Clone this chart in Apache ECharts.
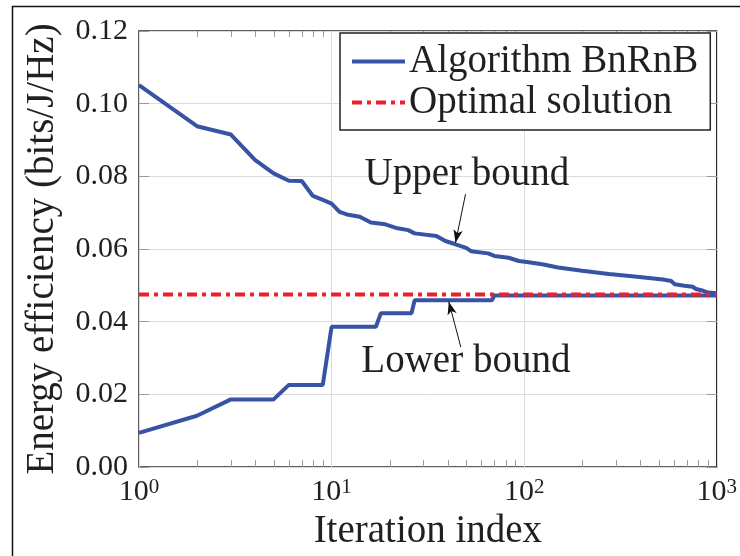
<!DOCTYPE html>
<html>
<head>
<meta charset="utf-8">
<script src="https://cdn.jsdelivr.net/npm/echarts@6/dist/echarts.min.js"></script>
<style>
  html, body { margin: 0; padding: 0; background: #fff; }
  #chart { width: 740px; height: 556px; }
</style>
</head>
<body>
<div id="chart"></div>
<script>
// Upper bound of the branch-reduce-and-bound search, per iteration
const upperIter = [1, 2, 3, 4, 5, 6, 7, 8, 9, 10, 11, 12, 14, 16, 19, 22, 25, 27, 35, 39, 44, 50, 53, 65, 70, 83, 94, 101, 124, 150, 200, 275, 375, 525, 580, 605, 680, 750, 780, 850, 900, 1000];
const upperEE = [0.1051, 0.0938, 0.0915, 0.0845, 0.0808, 0.0788, 0.0787, 0.0746, 0.0735, 0.0725, 0.0702, 0.0695, 0.0689, 0.0673, 0.0668, 0.0657, 0.0652, 0.0643, 0.0636, 0.0622, 0.0613, 0.0603, 0.0594, 0.0588, 0.0581, 0.0576, 0.0567, 0.0565, 0.0558, 0.0549, 0.0540, 0.0531, 0.0524, 0.0516, 0.0512, 0.0503, 0.0499, 0.0496, 0.0490, 0.0485, 0.0480, 0.0478];

// Lower bound (best feasible value found so far)
const lowerIter = [1, 2, 3, 5, 6, 9, 10, 17, 18, 26, 27, 68, 70, 1000];
const lowerEE = [0.0094, 0.0141, 0.0186, 0.0186, 0.0226, 0.0226, 0.0386, 0.0386, 0.0423, 0.0423, 0.0459, 0.0459, 0.0472, 0.0472];

// Optimal energy efficiency
const optimalIter = [1, 1000];
const optimalEE = [0.0475, 0.0475];

// Axis ranges and ticks
const xRange = [1, 1000];
const yRange = [0, 0.12];
const yStep = 0.02;
const minorTicks = [2, 3, 4, 5, 6, 7, 8, 9, 20, 30, 40, 50, 60, 70, 80, 90, 200, 300, 400, 500, 600, 700, 800, 900];

const FONT = '"Liberation Serif", "Times New Roman", serif';
const TXT = '#231f20';
const BLUE = '#3853a4';
const RED = '#ee2128';
const BIG = 39;

const pairs = (xs, ys) => xs.map((x, i) => [x, ys[i]]);

const chart = echarts.init(document.getElementById('chart'), null, { renderer: 'canvas' });

const option = {
  animation: false,
  backgroundColor: '#fff',
  textStyle: { fontFamily: FONT, color: TXT },
  graphic: [{
    type: 'polyline',
    silent: true,
    shape: { points: [[12.5, 556], [12.5, 6.5], [740, 6.5]] },
    style: { stroke: '#111', lineWidth: 1.5, fill: null }
  }],
  grid: {
    left: 139, right: 21, top: 31, bottom: 89,
    show: true, borderColor: '#2a2a2a', borderWidth: 1.5, backgroundColor: 'transparent'
  },
  legend: {
    orient: 'vertical',
    left: 340, top: 33,
    data: ['Algorithm BnRnB', 'Optimal solution'],
    backgroundColor: '#fff',
    borderColor: '#222',
    borderWidth: 1.5,
    borderRadius: 0,
    padding: [9, 12, 8, 10],
    itemGap: 2,
    itemWidth: 53,
    itemHeight: 20,
    selectedMode: false,
    itemStyle: { opacity: 0 },
    lineStyle: { width: 4 },
    textStyle: { fontFamily: FONT, fontSize: BIG, color: TXT, padding: [0, 0, 0, -1] }
  },
  xAxis: {
    type: 'log', logBase: 10, min: xRange[0], max: xRange[1],
    name: 'Iteration index', nameLocation: 'middle', nameGap: 44,
    nameTextStyle: { fontFamily: FONT, fontSize: BIG, color: TXT },
    axisLine: { show: false },
    axisTick: { show: false },
    splitLine: { show: true, lineStyle: { color: '#dcdcdc', width: 1 } },
    axisLabel: {
      margin: 10,
      formatter: v => '{b|10}{s|' + Math.round(Math.log10(v)) + '}',
      rich: {
        b: { fontFamily: FONT, fontSize: 30, color: TXT },
        s: { fontFamily: FONT, fontSize: 21, color: TXT, verticalAlign: 'top', lineHeight: 16 }
      }
    }
  },
  yAxis: [{
    type: 'value', min: yRange[0], max: yRange[1], interval: yStep,
    name: 'Energy efficiency (bits/J/Hz)', nameLocation: 'middle', nameGap: 77,
    nameTextStyle: { fontFamily: FONT, fontSize: BIG, color: TXT },
    axisLine: { show: false },
    axisTick: { show: true, inside: true, length: 10, lineStyle: { color: '#999', width: 1 } },
    splitLine: { show: true, lineStyle: { color: '#dcdcdc', width: 1 } },
    axisLabel: { margin: 11, fontFamily: FONT, fontSize: 30, color: TXT, formatter: v => v.toFixed(2) }
  }, {
    type: 'value', position: 'right', min: yRange[0], max: yRange[1], interval: yStep,
    axisLine: { show: false },
    axisTick: { show: true, inside: true, length: 10, lineStyle: { color: '#999', width: 1 } },
    splitLine: { show: false },
    axisLabel: { show: false }
  }],
  series: [
    {
      // minor log ticks along the bottom and top edges
      type: 'custom',
      silent: true,
      z: 1,
      clip: false,
      data: minorTicks.map(v => [v, yRange[0]]),
      renderItem: (params, api) => {
        const v = api.value(0);
        const b = api.coord([v, yRange[0]]);
        const t = api.coord([v, yRange[1]]);
        const x = Math.round(b[0]) + 0.5;
        return {
          type: 'group',
          children: [
            { type: 'line', shape: { x1: x, y1: b[1], x2: x, y2: b[1] - 7 }, style: { stroke: '#9a9a9a', lineWidth: 1 } },
            { type: 'line', shape: { x1: x, y1: t[1], x2: x, y2: t[1] + 6 }, style: { stroke: '#9a9a9a', lineWidth: 1 } }
          ]
        };
      }
    },
    {
      name: 'Algorithm BnRnB',
      type: 'line',
      z: 3,
      showSymbol: false,
      symbol: 'none',
      data: pairs(upperIter, upperEE),
      lineStyle: { color: BLUE, width: 4 },
      itemStyle: { color: BLUE },
      markLine: {
        silent: true,
        symbol: ['none', 'arrow'],
        symbolSize: [7, 13],
        label: { show: false },
        lineStyle: { color: '#111', width: 1, type: 'solid' },
        data: [
          [{ coord: [49.6, 0.0751] }, { coord: [44, 0.0617] }],
          [{ coord: [46.9, 0.0330] }, { coord: [40.6, 0.0455] }]
        ]
      },
      markPoint: {
        silent: true,
        symbol: 'circle',
        symbolSize: 0,
        label: {
          show: true, position: 'inside', formatter: p => p.name,
          fontFamily: FONT, fontSize: BIG, color: TXT
        },
        data: [
          { name: 'Upper bound', coord: [50.4, 0.0803] },
          { name: 'Lower bound', coord: [49.8, 0.0289] }
        ]
      }
    },
    {
      name: 'Algorithm BnRnB',
      type: 'line',
      z: 3,
      showSymbol: false,
      symbol: 'none',
      data: pairs(lowerIter, lowerEE),
      lineStyle: { color: BLUE, width: 4 },
      itemStyle: { color: BLUE }
    },
    {
      name: 'Optimal solution',
      type: 'line',
      z: 4,
      showSymbol: false,
      symbol: 'none',
      data: pairs(optimalIter, optimalEE),
      lineStyle: { color: RED, width: 4, type: [10, 5, 4, 5] },
      itemStyle: { color: RED }
    }
  ]
};

chart.setOption(option);
</script>
</body>
</html>
